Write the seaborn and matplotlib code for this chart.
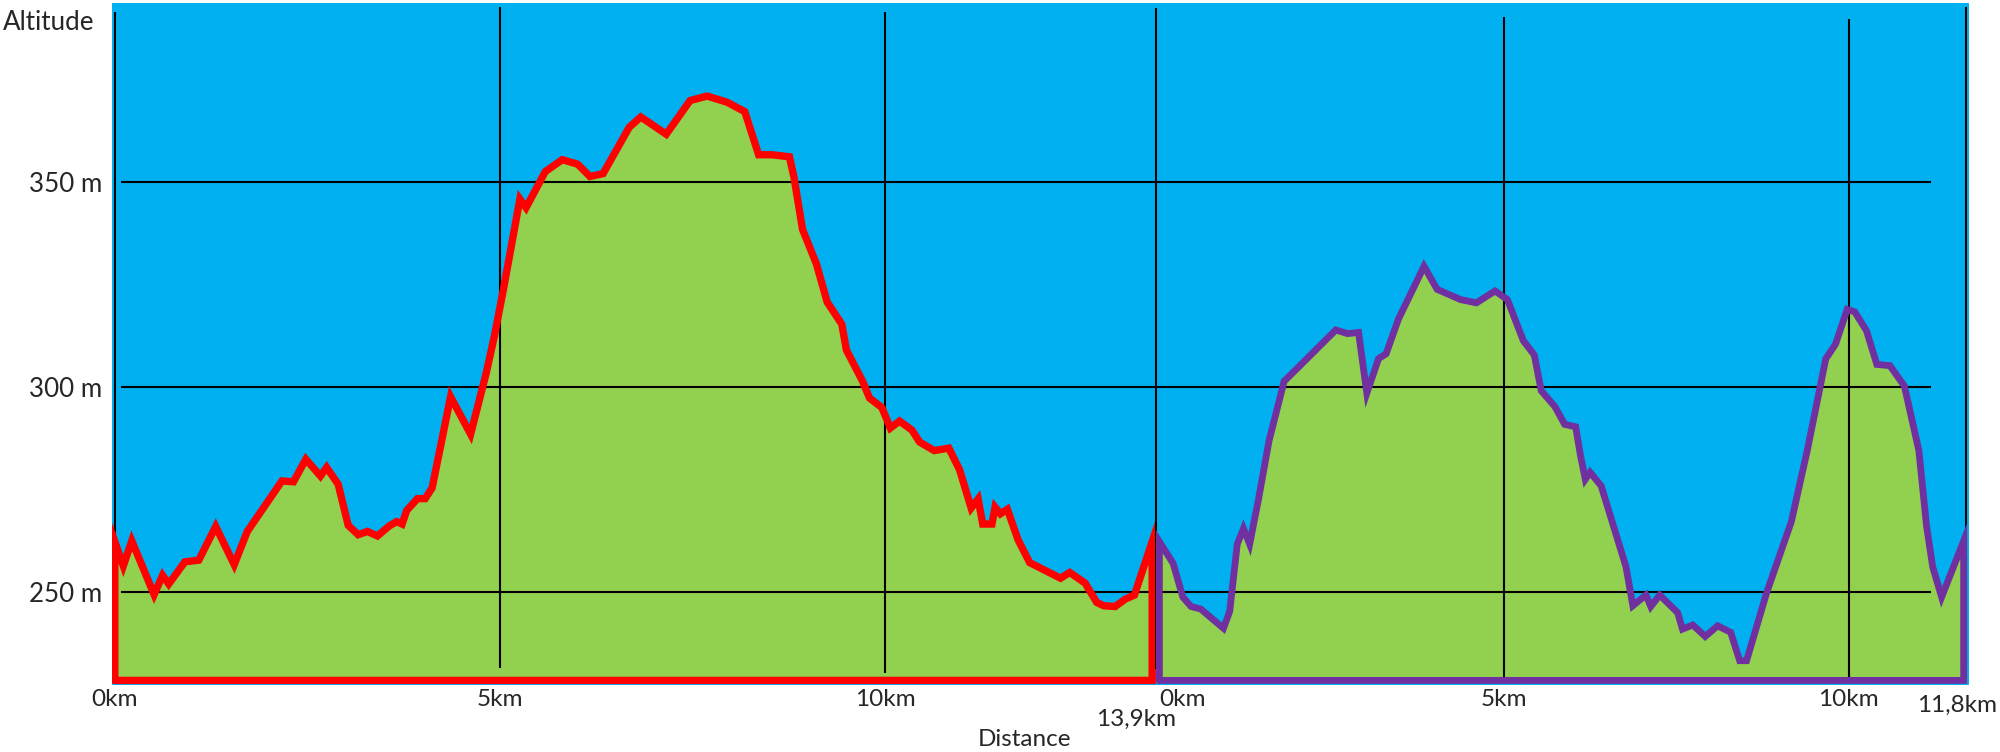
import matplotlib
matplotlib.use("Agg")
import matplotlib.pyplot as plt
import pandas as pd
import seaborn as sns

# ---------------- data ----------------
route1_km = [0.00, 0.11, 0.22, 0.51, 0.62, 0.70, 0.91, 1.09, 1.31, 1.55, 1.72, 2.17, 2.32, 2.48,
             2.67, 2.75, 2.90, 3.03, 3.16, 3.28, 3.41, 3.56, 3.66, 3.73, 3.79, 3.93, 4.03, 4.12,
             4.36, 4.62, 4.82, 4.93, 5.05, 5.26, 5.34, 5.59, 5.81, 6.01, 6.17, 6.34, 6.68, 6.83,
             7.16, 7.47, 7.69, 7.95, 8.18, 8.36, 8.53, 8.76, 8.82, 8.93, 9.11, 9.25, 9.44, 9.50,
             9.71, 9.80, 9.96, 10.07, 10.19, 10.35, 10.45, 10.64, 10.83, 10.97, 11.12, 11.21,
             11.27, 11.39, 11.43, 11.50, 11.59, 11.73, 11.88, 12.28, 12.40, 12.60, 12.75, 12.84,
             12.99, 13.12, 13.24, 13.47]
route1_alt = [262.3, 256.4, 262.5, 249.4, 254.1, 252.0, 257.4, 257.8, 266.0, 256.7, 264.8, 277.1,
              276.9, 282.4, 278.3, 280.4, 276.3, 266.3, 264.0, 264.8, 263.7, 266.1, 267.2, 266.6,
              269.9, 272.8, 272.8, 275.4, 297.6, 288.5, 303.2, 312.5, 324.2, 345.8, 343.7, 352.5,
              355.4, 354.3, 351.3, 352.0, 363.3, 365.8, 361.6, 369.8, 370.9, 369.4, 367.1, 356.6,
              356.6, 356.1, 351.0, 338.4, 330.0, 320.7, 315.3, 309.0, 301.4, 297.3, 295.0, 290.0,
              291.7, 289.5, 286.6, 284.5, 285.1, 279.8, 270.5, 272.7, 266.6, 266.6, 270.7, 269.1,
              270.2, 262.7, 257.2, 253.4, 254.8, 252.2, 247.5, 246.7, 246.5, 248.3, 249.3, 262.3]

route2_km = [0.00, 0.20, 0.34, 0.46, 0.60, 0.93, 1.02, 1.13, 1.22, 1.31, 1.44, 1.59, 1.81, 2.04,
             2.56, 2.73, 2.89, 3.01, 3.18, 3.29, 3.47, 3.84, 4.03, 4.37, 4.60, 4.87, 5.05, 5.28,
             5.44, 5.54, 5.74, 5.88, 6.04, 6.11, 6.18, 6.25, 6.41, 6.77, 6.87, 7.06, 7.13, 7.26,
             7.52, 7.59, 7.74, 7.92, 8.10, 8.29, 8.42, 8.52, 8.81, 9.17, 9.40, 9.67, 9.81, 9.98,
             10.09, 10.26, 10.41, 10.60, 10.81, 11.02, 11.13, 11.22, 11.35, 11.67]
route2_alt = [262.3, 257.0, 248.8, 246.5, 245.9, 241.2, 245.3, 261.7, 265.5, 261.7, 272.8, 286.8,
              301.4, 305.2, 313.9, 313.0, 313.3, 298.5, 306.9, 308.1, 316.6, 329.4, 323.8, 321.3,
              320.5, 323.4, 321.3, 311.3, 307.8, 299.1, 295.2, 290.9, 290.3, 283.3, 277.5, 279.2,
              275.9, 256.2, 246.7, 249.3, 246.5, 249.3, 245.0, 241.0, 242.0, 239.2, 241.8, 240.2,
              233.3, 233.3, 249.8, 267.2, 284.5, 306.9, 310.4, 318.9, 318.3, 313.7, 305.5, 305.2,
              300.2, 284.5, 266.3, 256.2, 248.8, 262.5]

alt_ticks = [250, 300, 350]
alt_labels = ["250 m", "300 m", "350 m"]
km_ticks = [0, 5, 10]
km_labels = ["0km", "5km", "10km"]
route1_total = "13,9km"
route2_total = "11,8km"
y_title = "Altitude"
x_title = "Distance"

# ---------------- style ----------------
BASE = 228.5
SKY = "#00B0F0"
GROUND = "#92D050"
RED = "#FF0000"
PURPLE = "#7030A0"
FS_X = 17.5
FS_Y = 18.7

sns.set_style("white")
plt.rcParams["font.family"] = ["Lato", "DejaVu Sans"]

W, H = 2000, 752
fig = plt.figure(figsize=(W / 100, H / 100), dpi=100)


def px_axes(x0, x1, y0, y1):
    return fig.add_axes([x0 / W, 1 - y1 / H, (x1 - x0) / W, (y1 - y0) / H])


ax1 = px_axes(111.6, 1156, 2.5, 684.5)
ax2 = px_axes(1156, 1968.5, 2.5, 684.5)
ax1.set_xlim(-0.042, 13.52)
ax2.set_xlim(-0.049, 11.74)
for ax in (ax1, ax2):
    ax.set_ylim(227.5, 393.7)
    ax.set_facecolor(SKY)
    for s in ax.spines.values():
        s.set_visible(False)


def draw(ax, km, alt, color, lw, hl_x0, hl_x1, vlines):
    ax.fill_between(km, alt, BASE, color=GROUND, lw=0, zorder=1)
    ax.hlines(alt_ticks, hl_x0, hl_x1, color="black", lw=1.5, zorder=2)
    for x, y0, y1 in vlines:
        ax.vlines(x, y0, y1, color="black", lw=1.5, zorder=2, clip_on=False)
    path = pd.DataFrame({"km": [km[0]] + list(km) + [km[-1], km[0]],
                         "alt": [BASE] + list(alt) + [BASE, BASE]})
    sns.lineplot(data=path, x="km", y="alt", sort=False, estimator=None,
                 color=color, lw=lw, ax=ax, zorder=3, solid_joinstyle="miter")
    ax.set_xlabel("")
    ax.set_ylabel("")


draw(ax1, route1_km, route1_alt, RED, 5.3, 0.08, 13.52,
     [(0, 391.4, 229.8), (5, 392.6, 231.5), (10, 391.4, 230.3)])
draw(ax2, route2_km, route2_alt, PURPLE, 4.9, -0.049, 11.2,
     [(-0.049, 392.4, 231.3), (5, 390.2, 229.3), (10, 389.7, 228.6), (11.70, 392.6, 231.8)])

# ticks
ax1.set_yticks(alt_ticks, alt_labels)
ax1.tick_params(axis="y", length=0, pad=7, labelsize=FS_Y)
ax2.set_yticks([])
for ax in (ax1, ax2):
    ax.set_xticks(km_ticks, km_labels)
    ax.tick_params(axis="x", length=0, pad=3, labelsize=FS_X)
ax2.get_xticklabels()[0].set_ha("left")

# free texts
fig.text(2.5 / W, 1 - 23 / H, y_title, ha="left", va="center", fontsize=FS_Y)
fig.text(1025 / W, 1 - 739.5 / H, x_title, ha="center", va="center", fontsize=FS_X)
fig.text(1136 / W, 1 - 719 / H, route1_total, ha="center", va="center", fontsize=FS_X)
fig.text(1957 / W, 1 - 705 / H, route2_total, ha="center", va="center", fontsize=FS_X)

fig.savefig("out.png", dpi=100)
